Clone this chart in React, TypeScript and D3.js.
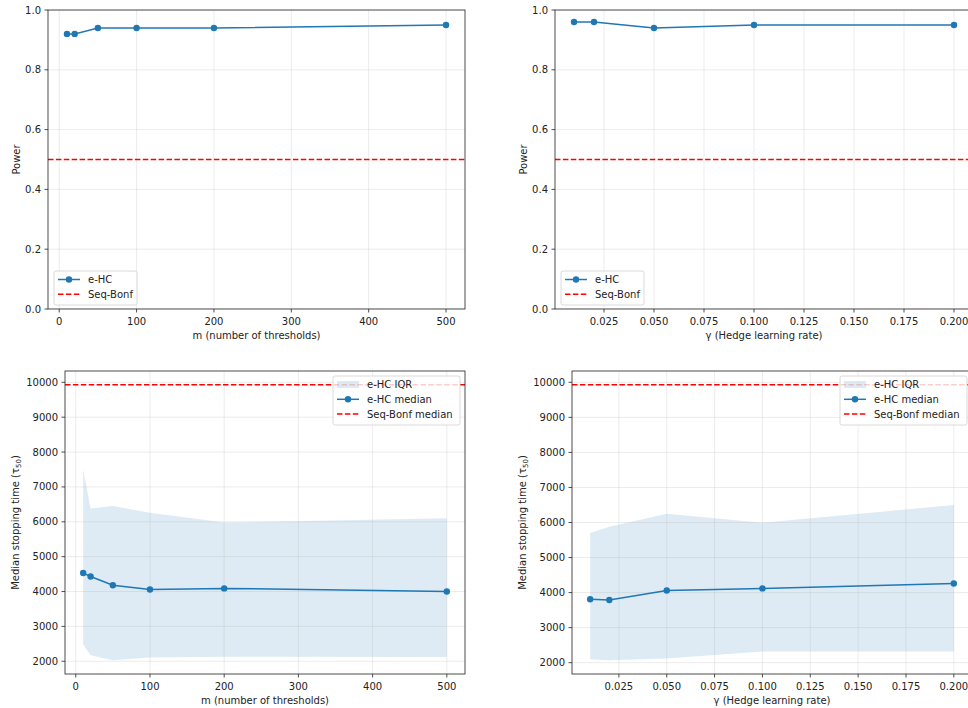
import React from "react";
import * as d3 from "d3";

// sweep values
const mValues = [10, 20, 50, 100, 200, 500];
const gammaValues = [0.01, 0.02, 0.05, 0.1, 0.2];

// power
const powerByM = [0.92, 0.92, 0.94, 0.94, 0.94, 0.95];
const powerByGamma = [0.96, 0.96, 0.94, 0.95, 0.95];
const seqBonfPower = 0.5;

// stopping times
const medianByM = [4530, 4430, 4180, 4060, 4090, 4000];
const q75ByM = [7500, 6380, 6450, 6260, 5980, 6100];
const q25ByM = [2480, 2170, 2030, 2110, 2130, 2120];
const medianByGamma = [3810, 3790, 4060, 4120, 4260];
const q75ByGamma = [5700, 5880, 6250, 5990, 6500];
const q25ByGamma = [2100, 2070, 2120, 2320, 2320];
const seqBonfMedian = 9930;

// ticks
const mTicks = [0, 100, 200, 300, 400, 500];
const gammaTicks = [0.025, 0.05, 0.075, 0.1, 0.125, 0.15, 0.175, 0.2];
const powerTicks = [0, 0.2, 0.4, 0.6, 0.8, 1.0];
const timeTicks = [2000, 3000, 4000, 5000, 6000, 7000, 8000, 9000, 10000];

const BLUE = "#1f77b4";
const RED = "#ff0000";
const FONT = "DejaVu Sans, sans-serif";

const pad = (lo: number, hi: number) => {
  const r = hi - lo;
  return [lo - r * 0.05, hi + r * 0.05];
};

type Box = { left: number; right: number; top: number; bottom: number };

type PanelProps = {
  box: Box;
  xs: number[];
  median: number[];
  lower?: number[];
  upper?: number[];
  ref: number;
  xTicks: number[];
  xFmt: (v: number) => string;
  yTicks: number[];
  yFmt: (v: number) => string;
  yFixed?: [number, number];
  xLabel: string;
  yLabel: React.ReactNode;
  yLabelX: number;
  legend: { x: number; y: number; w: number; h: number };
  bottomPanel: boolean;
};

function Panel(p: PanelProps) {
  const { box } = p;
  const x = d3
    .scaleLinear()
    .domain(pad(d3.min(p.xs)!, d3.max(p.xs)!))
    .range([box.left, box.right]);
  const yVals = [...p.median, ...(p.lower || []), ...(p.upper || []), p.ref];
  const y = d3
    .scaleLinear()
    .domain(p.yFixed ? p.yFixed : pad(d3.min(yVals)!, d3.max(yVals)!))
    .range([box.bottom, box.top]);

  const pts = p.xs.map((v, i) => [v, p.median[i]] as [number, number]);
  const line = d3
    .line<[number, number]>()
    .x((d) => x(d[0]))
    .y((d) => y(d[1]));
  const area = d3
    .area<number>()
    .x((d) => x(d))
    .y0((_, i) => y(p.lower![i]))
    .y1((_, i) => y(p.upper![i]));

  const clipId = `clip-${box.left}-${box.top}`;
  const lg = p.legend;
  const labels = p.bottomPanel
    ? ["e-HC IQR", "e-HC median", "Seq-Bonf median"]
    : ["e-HC", "Seq-Bonf"];

  return (
    <g fontFamily={FONT} fontSize={10} fill="#222">
      <defs>
        <clipPath id={clipId}>
          <rect x={box.left} y={box.top} width={box.right - box.left} height={box.bottom - box.top} />
        </clipPath>
      </defs>
      <g clipPath={`url(#${clipId})`}>
        {p.lower && p.upper && (
          <path d={area(p.xs)!} fill={BLUE} fillOpacity={0.15} stroke="none" />
        )}
        {p.xTicks.map((t) => (
          <line key={"gx" + t} x1={x(t)} x2={x(t)} y1={box.top} y2={box.bottom} stroke="#b0b0b0" strokeOpacity={0.3} strokeWidth={0.8} />
        ))}
        {p.yTicks.map((t) => (
          <line key={"gy" + t} x1={box.left} x2={box.right} y1={y(t)} y2={y(t)} stroke="#b0b0b0" strokeOpacity={0.3} strokeWidth={0.8} />
        ))}
        <path d={line(pts)!} fill="none" stroke={BLUE} strokeWidth={1.5} />
        {pts.map((d, i) => (
          <circle key={i} cx={x(d[0])} cy={y(d[1])} r={3.2} fill={BLUE} />
        ))}
        <line x1={box.left} x2={box.right} y1={y(p.ref)} y2={y(p.ref)} stroke={RED} strokeWidth={1.5} strokeDasharray="5.5,2.4" />
      </g>

      {/* spines */}
      <rect x={box.left} y={box.top} width={box.right - box.left} height={box.bottom - box.top} fill="none" stroke="#222" strokeWidth={0.8} />

      {/* x axis */}
      {p.xTicks.map((t) => (
        <g key={"xt" + t}>
          <line x1={x(t)} x2={x(t)} y1={box.bottom} y2={box.bottom + 3.5} stroke="#222" strokeWidth={0.8} />
          <text x={x(t)} y={box.bottom + 16} textAnchor="middle">{p.xFmt(t)}</text>
        </g>
      ))}
      <text x={(box.left + box.right) / 2} y={box.bottom + 30} textAnchor="middle">{p.xLabel}</text>

      {/* y axis */}
      {p.yTicks.map((t) => (
        <g key={"yt" + t}>
          <line x1={box.left - 3.5} x2={box.left} y1={y(t)} y2={y(t)} stroke="#222" strokeWidth={0.8} />
          <text x={box.left - 7} y={y(t)} dy="0.35em" textAnchor="end">{p.yFmt(t)}</text>
        </g>
      ))}
      <text
        transform={`translate(${p.yLabelX},${(box.top + box.bottom) / 2}) rotate(-90)`}
        textAnchor="middle"
        dy="0.35em"
      >
        {p.yLabel}
      </text>

      {/* legend */}
      <rect x={lg.x} y={lg.y} width={lg.w} height={lg.h} rx={2} fill="#fff" fillOpacity={0.8} stroke="#d0d0d0" strokeWidth={0.8} />
      {labels.map((lab, i) => {
        const ly = lg.y + 8.5 + i * 14.8;
        const hx = lg.x + 4;
        let handle: React.ReactNode;
        if (lab === "e-HC IQR") {
          handle = <rect x={hx} y={ly - 3.5} width={22} height={7} fill={BLUE} fillOpacity={0.15} />;
        } else if (lab.startsWith("e-HC")) {
          handle = (
            <g>
              <line x1={hx} x2={hx + 22} y1={ly} y2={ly} stroke={BLUE} strokeWidth={1.5} />
              <circle cx={hx + 11} cy={ly} r={3.2} fill={BLUE} />
            </g>
          );
        } else {
          handle = <line x1={hx} x2={hx + 22} y1={ly} y2={ly} stroke={RED} strokeWidth={1.5} strokeDasharray="5.5,2.4" />;
        }
        return (
          <g key={lab}>
            {handle}
            <text x={hx + 30} y={ly} dy="0.35em">{lab}</text>
          </g>
        );
      })}
    </g>
  );
}

const tauLabel = (
  <>
    Median stopping time (τ
    <tspan fontSize={7} dy="2">50</tspan>
    <tspan dy="-2">)</tspan>
  </>
);

export default function App() {
  const f1 = d3.format(".1f");
  const f3 = d3.format(".3f");
  const fd = d3.format("d");
  return (
    <svg
      width={968}
      height={708}
      style={{ position: "absolute", left: 0, top: 0, background: "#fff" }}
    >
      <rect width={968} height={708} fill="#fff" />
      <Panel
        box={{ left: 48, right: 465, top: 10, bottom: 309 }}
        xs={mValues}
        median={powerByM}
        ref={seqBonfPower}
        xTicks={mTicks}
        xFmt={fd}
        yTicks={powerTicks}
        yFmt={f1}
        yFixed={[0, 1]}
        xLabel="m (number of thresholds)"
        yLabel="Power"
        yLabelX={16}
        legend={{ x: 54, y: 271, w: 83, h: 34 }}
        bottomPanel={false}
      />
      <Panel
        box={{ left: 555, right: 973, top: 10, bottom: 309 }}
        xs={gammaValues}
        median={powerByGamma}
        ref={seqBonfPower}
        xTicks={gammaTicks}
        xFmt={f3}
        yTicks={powerTicks}
        yFmt={f1}
        yFixed={[0, 1]}
        xLabel="γ (Hedge learning rate)"
        yLabel="Power"
        yLabelX={523}
        legend={{ x: 561, y: 271, w: 83, h: 34 }}
        bottomPanel={false}
      />
      <Panel
        box={{ left: 65, right: 465, top: 371, bottom: 674 }}
        xs={mValues}
        median={medianByM}
        lower={q25ByM}
        upper={q75ByM}
        ref={seqBonfMedian}
        xTicks={mTicks}
        xFmt={fd}
        yTicks={timeTicks}
        yFmt={fd}
        xLabel="m (number of thresholds)"
        yLabel={tauLabel}
        yLabelX={15}
        legend={{ x: 333, y: 376, w: 127, h: 49 }}
        bottomPanel={true}
      />
      <Panel
        box={{ left: 572, right: 972, top: 371, bottom: 674 }}
        xs={gammaValues}
        median={medianByGamma}
        lower={q25ByGamma}
        upper={q75ByGamma}
        ref={seqBonfMedian}
        xTicks={gammaTicks}
        xFmt={f3}
        yTicks={timeTicks}
        yFmt={fd}
        xLabel="γ (Hedge learning rate)"
        yLabel={tauLabel}
        yLabelX={522}
        legend={{ x: 840, y: 376, w: 127, h: 49 }}
        bottomPanel={true}
      />
    </svg>
  );
}
